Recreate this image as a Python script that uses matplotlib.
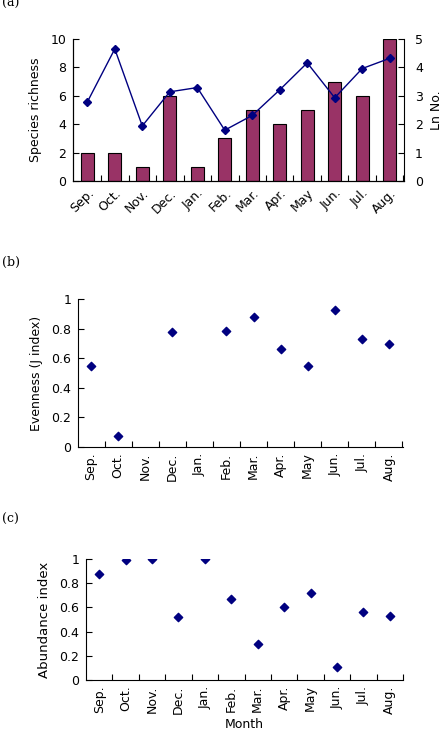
import matplotlib.pyplot as plt
import numpy as np
from matplotlib.ticker import FixedLocator

months = ['Sep.', 'Oct.', 'Nov.', 'Dec.', 'Jan.', 'Feb.', 'Mar.', 'Apr.', 'May', 'Jun.', 'Jul.', 'Aug.']
richness = [2, 2, 1, 6, 1, 3, 5, 4, 5, 7, 6, 10]
ln_no = [2.78, 4.65, 1.94, 3.14, 3.29, 1.79, 2.31, 3.21, 4.16, 2.93, 3.96, 4.32]
evenness = [0.545, 0.075, np.nan, 0.78, np.nan, 0.787, 0.88, 0.665, 0.545, 0.928, 0.728, 0.697]
abundance = [0.874, 0.995, 1.0, 0.52, 1.0, 0.668, 0.30, 0.604, 0.723, 0.107, 0.566, 0.53]

bar_color = '#993366'
dot_color = '#000080'
fs = 9

W, H = 441, 756
fig = plt.figure(figsize=(W / 100, H / 100), dpi=100)


def px_axes(l, t, r, b):
    return fig.add_axes([l / W, 1 - b / H, (r - l) / W, (b - t) / H])


def style_x(ax, rot):
    x = np.arange(len(months))
    ax.set_xticks(x)
    ax.set_xticklabels(months, fontsize=fs, rotation=rot,
                       ha='right' if rot == 45 else 'center',
                       rotation_mode='anchor' if rot == 45 else 'default')
    ax.tick_params(axis='x', which='major', length=0, pad=4)
    ax.xaxis.set_minor_locator(FixedLocator(np.arange(len(months)) + 0.5))
    ax.tick_params(axis='x', which='minor', direction='in', length=4, width=0.8)
    ax.tick_params(axis='y', direction='in', length=4, width=0.8, labelsize=fs, pad=5)
    ax.spines['top'].set_visible(False)


x = np.arange(len(months))

# (a)
ax = px_axes(73, 39, 404, 181)
ax.bar(x, richness, width=0.47, color=bar_color, edgecolor='black', linewidth=0.8, zorder=2)
ax.set_xlim(-0.52, 11.52)
ax.set_ylim(0, 10)
ax.set_yticks([0, 2, 4, 6, 8, 10])
ax.set_ylabel('Species richness', fontsize=fs, labelpad=6)
style_x(ax, 45)
ax.spines['right'].set_visible(False)
ax2 = ax.twinx()
ax2.plot(x, ln_no, color=dot_color, marker='D', markersize=4.5, linewidth=1, zorder=3)
ax2.set_ylim(0, 5)
ax2.set_yticks([0, 1, 2, 3, 4, 5])
ax2.tick_params(axis='y', direction='in', length=4, width=0.8, labelsize=fs, pad=8)
ax2.spines['top'].set_visible(False)
ax2.set_ylabel('Ln No.', fontsize=fs, labelpad=5)
fig.text(2 / W, 1 - 3 / H, '(a)', family='DejaVu Serif', fontsize=9, va='center', ha='left')

# (b)
ax = px_axes(78, 299, 403, 447)
ax.scatter(x, evenness, marker='D', s=18, color=dot_color, zorder=3)
ax.set_xlim(-0.48, 11.52)
ax.set_ylim(0, 1)
ax.set_yticks([0, 0.2, 0.4, 0.6, 0.8, 1])
ax.set_yticklabels(['0', '0.2', '0.4', '0.6', '0.8', '1'])
ax.set_ylabel('Evenness (J index)', fontsize=fs, labelpad=6)
style_x(ax, 90)
ax.spines['right'].set_visible(False)
fig.text(2 / W, 1 - 262 / H, '(b)', family='DejaVu Serif', fontsize=9, va='center', ha='left')

# (c)
ax = px_axes(86, 559, 403, 680)
ax.scatter(x, abundance, marker='D', s=18, color=dot_color, zorder=3)
ax.set_xlim(-0.5, 11.5)
ax.set_ylim(0, 1)
ax.set_yticks([0, 0.2, 0.4, 0.6, 0.8, 1])
ax.set_yticklabels(['0', '0.2', '0.4', '0.6', '0.8', '1'])
ax.set_ylabel('Abundance index', fontsize=9.5, labelpad=6)
ax.set_xlabel('Month', fontsize=fs, labelpad=3)
style_x(ax, 90)
ax.spines['right'].set_visible(False)
fig.text(2 / W, 1 - 519 / H, '(c)', family='DejaVu Serif', fontsize=9, va='center', ha='left')

fig.savefig('out.png', dpi=100)
